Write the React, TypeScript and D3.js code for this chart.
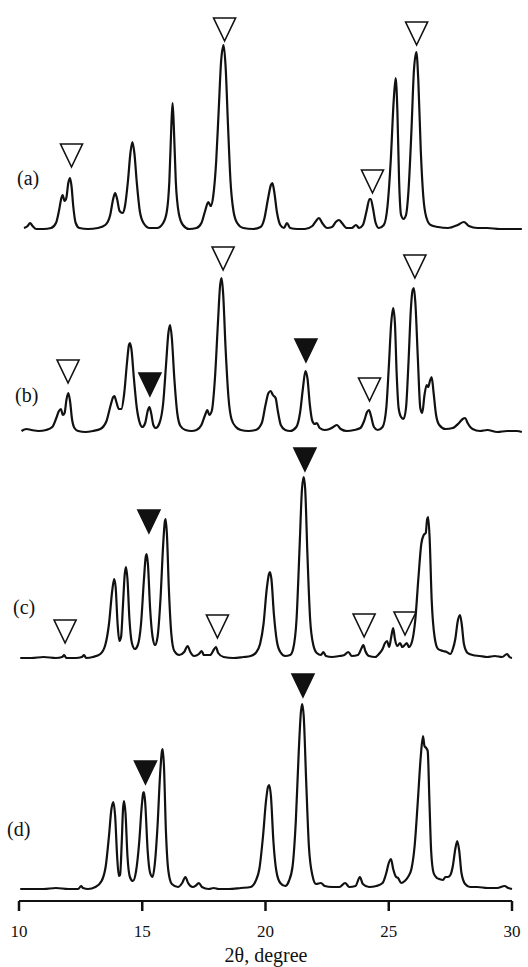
import React from "react";
import * as d3 from "d3";

// Diffraction patterns: [2θ (deg), intensity (arb. units above baseline)]
const patternA: [number, number][] = [
  [10.2, 3], [10.35, 5], [10.45, 8], [10.55, 5], [10.7, 2], [11.0, 2], [11.3, 3], [11.5, 8],
  [11.62, 20], [11.72, 33], [11.77, 36], [11.85, 30], [11.92, 33], [12.0, 48], [12.07, 53],
  [12.13, 45], [12.2, 25], [12.3, 8], [12.45, 3], [12.8, 2], [13.2, 3], [13.5, 6], [13.7, 16],
  [13.82, 32], [13.9, 38], [13.98, 32], [14.08, 20], [14.2, 18], [14.3, 25], [14.42, 50],
  [14.52, 78], [14.6, 89], [14.68, 78], [14.78, 48], [14.9, 20], [15.05, 8], [15.3, 3],
  [15.6, 3], [15.85, 8], [16.0, 20], [16.1, 50], [16.18, 105], [16.23, 128], [16.28, 105],
  [16.36, 50], [16.48, 18], [16.65, 6], [16.9, 2], [17.2, 3], [17.4, 8], [17.55, 20],
  [17.68, 29], [17.78, 25], [17.88, 35], [18.0, 70], [18.1, 120], [18.2, 170], [18.3, 186],
  [18.38, 165], [18.48, 105], [18.58, 50], [18.7, 20], [18.85, 8], [19.1, 3], [19.5, 2],
  [19.8, 4], [19.95, 12], [20.1, 32], [20.22, 46], [20.28, 48], [20.35, 40], [20.47, 18],
  [20.6, 6], [20.75, 3], [20.87, 8], [21.0, 3], [21.3, 2], [21.6, 2], [21.9, 5], [22.05, 10],
  [22.17, 13], [22.3, 8], [22.5, 3], [22.7, 4], [22.85, 9], [22.98, 11], [23.1, 8], [23.3, 3],
  [23.5, 3], [23.67, 6], [23.8, 3], [23.95, 6], [24.1, 20], [24.22, 32], [24.27, 32],
  [24.35, 24], [24.47, 8], [24.6, 3], [24.8, 6], [24.95, 25], [25.08, 70], [25.2, 130],
  [25.28, 153], [25.35, 120], [25.42, 50], [25.5, 16], [25.6, 12], [25.7, 16], [25.8, 40],
  [25.92, 100], [26.02, 160], [26.12, 179], [26.2, 150], [26.3, 80], [26.4, 35], [26.52, 14],
  [26.7, 6], [27.0, 4], [27.4, 3], [27.8, 6], [28.05, 9], [28.25, 5], [28.6, 3], [29.0, 3],
  [29.5, 2], [30.0, 2], [30.4, 2],
];

const patternB: [number, number][] = [
  [10.1, 2], [10.3, 4], [10.5, 3], [10.8, 2], [11.1, 3], [11.35, 6], [11.5, 14], [11.62, 22],
  [11.7, 24], [11.78, 18], [11.85, 20], [11.93, 34], [12.0, 40], [12.07, 32], [12.15, 14],
  [12.25, 5], [12.4, 2], [12.7, 1], [13.0, 2], [13.3, 4], [13.55, 12], [13.72, 28],
  [13.82, 36], [13.87, 37], [13.95, 31], [14.05, 24], [14.15, 24], [14.27, 40], [14.38, 70],
  [14.46, 88], [14.5, 90], [14.56, 84], [14.66, 55], [14.78, 25], [14.9, 10], [15.0, 6],
  [15.12, 10], [15.22, 22], [15.29, 26], [15.36, 20], [15.45, 8], [15.55, 5], [15.7, 10],
  [15.85, 30], [15.97, 70], [16.06, 100], [16.13, 108], [16.2, 95], [16.3, 55], [16.42, 20],
  [16.55, 7], [16.75, 3], [17.0, 2], [17.2, 3], [17.4, 8], [17.55, 18], [17.64, 23],
  [17.72, 18], [17.82, 22], [17.95, 55], [18.07, 110], [18.16, 148], [18.22, 155],
  [18.28, 140], [18.38, 85], [18.5, 35], [18.62, 14], [18.8, 6], [19.0, 3], [19.3, 2],
  [19.6, 3], [19.85, 10], [20.0, 28], [20.12, 40], [20.21, 42], [20.3, 38], [20.41, 35],
  [20.5, 22], [20.62, 8], [20.8, 3], [21.0, 2], [21.25, 6], [21.4, 20], [21.52, 45],
  [21.62, 62], [21.7, 55], [21.8, 28], [21.9, 12], [22.0, 9], [22.08, 10], [22.2, 5],
  [22.4, 3], [22.6, 4], [22.75, 6], [22.9, 8], [23.05, 4], [23.3, 2], [23.6, 3], [23.85, 5],
  [24.0, 12], [24.12, 21], [24.2, 23], [24.28, 17], [24.4, 6], [24.55, 3], [24.75, 6],
  [24.9, 25], [25.0, 65], [25.1, 110], [25.18, 125], [25.25, 110], [25.32, 60], [25.4, 25],
  [25.5, 16], [25.6, 14], [25.7, 25], [25.8, 70], [25.9, 125], [25.97, 143], [26.02, 145],
  [26.08, 130], [26.18, 75], [26.28, 25], [26.36, 20], [26.45, 38], [26.54, 48], [26.6, 46],
  [26.67, 52], [26.74, 56], [26.82, 40], [26.92, 18], [27.05, 8], [27.3, 4], [27.6, 5],
  [27.85, 10], [28.0, 14], [28.1, 15], [28.2, 10], [28.4, 4], [28.7, 2], [29.0, 3],
  [29.4, 1], [29.8, 2], [30.2, 2], [30.4, 1],
];

const patternC: [number, number][] = [
  [10.05, 1], [10.5, 1], [11.0, 2], [11.5, 1], [11.75, 2], [11.83, 4], [11.92, 1], [12.3, 1],
  [12.55, 2], [12.64, 4], [12.72, 1], [13.0, 2], [13.3, 5], [13.5, 14], [13.65, 35],
  [13.78, 68], [13.86, 80], [13.92, 72], [14.0, 35], [14.07, 18], [14.14, 22], [14.22, 55],
  [14.29, 85], [14.34, 92], [14.4, 80], [14.48, 40], [14.58, 16], [14.7, 10], [14.82, 14],
  [14.95, 35], [15.07, 80], [15.14, 102], [15.18, 105], [15.23, 95], [15.32, 50],
  [15.42, 22], [15.52, 14], [15.62, 22], [15.74, 60], [15.85, 115], [15.92, 138],
  [15.95, 140], [16.0, 125], [16.08, 70], [16.18, 25], [16.3, 8], [16.5, 4], [16.7, 7],
  [16.84, 13], [16.95, 7], [17.1, 3], [17.3, 5], [17.41, 8], [17.5, 4], [17.75, 4],
  [17.92, 10], [17.99, 12], [18.08, 6], [18.3, 2], [18.7, 1], [19.1, 2], [19.4, 3],
  [19.6, 6], [19.78, 15], [19.92, 35], [20.05, 70], [20.14, 85], [20.18, 87], [20.24, 80],
  [20.34, 45], [20.46, 18], [20.6, 7], [20.8, 3], [21.0, 4], [21.12, 10], [21.26, 40],
  [21.38, 110], [21.48, 170], [21.55, 182], [21.61, 170], [21.7, 105], [21.81, 40],
  [21.94, 14], [22.08, 6], [22.25, 4], [22.35, 7], [22.45, 3], [22.7, 2], [23.0, 3],
  [23.2, 4], [23.36, 7], [23.5, 3], [23.75, 4], [23.9, 11], [23.97, 14], [24.05, 8],
  [24.2, 3], [24.45, 2], [24.6, 5], [24.75, 10], [24.85, 16], [24.93, 18], [25.02, 12],
  [25.1, 22], [25.18, 31], [25.25, 20], [25.35, 13], [25.46, 16], [25.55, 12], [25.65, 14],
  [25.73, 16], [25.82, 12], [25.95, 18], [26.08, 40], [26.2, 80], [26.32, 115], [26.42, 124],
  [26.5, 126], [26.56, 140], [26.6, 142], [26.66, 120], [26.74, 60], [26.86, 22],
  [27.0, 10], [27.2, 8], [27.35, 7], [27.5, 5], [27.6, 10], [27.7, 20], [27.8, 38],
  [27.89, 44], [27.96, 35], [28.05, 15], [28.2, 6], [28.4, 4], [28.7, 3], [29.0, 2],
  [29.3, 3], [29.6, 2], [29.8, 5], [29.9, 2], [30.0, 1],
];

const patternD: [number, number][] = [
  [10.05, 2], [10.5, 2], [11.0, 2], [11.5, 3], [12.0, 2], [12.4, 2], [12.52, 5], [12.6, 3],
  [12.8, 2], [13.1, 4], [13.35, 10], [13.52, 25], [13.65, 55], [13.75, 82], [13.83, 89],
  [13.9, 75], [13.98, 35], [14.05, 15], [14.1, 16], [14.17, 50], [14.22, 82], [14.26, 90],
  [14.32, 78], [14.4, 35], [14.5, 14], [14.62, 10], [14.75, 20], [14.88, 50], [14.98, 85],
  [15.04, 98], [15.07, 99], [15.12, 88], [15.22, 40], [15.32, 18], [15.42, 14], [15.5, 25],
  [15.62, 65], [15.72, 115], [15.8, 140], [15.83, 142], [15.88, 125], [15.96, 60],
  [16.06, 20], [16.2, 7], [16.45, 4], [16.62, 8], [16.75, 14], [16.86, 8], [17.05, 4],
  [17.2, 6], [17.3, 8], [17.42, 4], [17.7, 2], [17.9, 3], [18.1, 2], [18.5, 2], [19.0, 3],
  [19.4, 4], [19.6, 10], [19.75, 22], [19.9, 55], [20.02, 90], [20.1, 104], [20.15, 106],
  [20.22, 95], [20.32, 50], [20.44, 20], [20.6, 8], [20.8, 5], [20.95, 10], [21.1, 25],
  [21.23, 70], [21.35, 140], [21.44, 180], [21.49, 187], [21.55, 175], [21.65, 110],
  [21.76, 45], [21.9, 16], [22.05, 7], [22.25, 8], [22.4, 5], [22.7, 4], [23.0, 4],
  [23.23, 8], [23.4, 4], [23.65, 5], [23.83, 14], [23.95, 7], [24.2, 4], [24.5, 5],
  [24.75, 8], [24.9, 18], [25.0, 28], [25.09, 32], [25.18, 22], [25.3, 14], [25.38, 13],
  [25.5, 8], [25.65, 10], [25.78, 14], [25.92, 22], [26.05, 45], [26.18, 90], [26.3, 135],
  [26.39, 155], [26.45, 145], [26.52, 143], [26.58, 140], [26.65, 90], [26.72, 40],
  [26.82, 18], [26.95, 13], [27.05, 12], [27.2, 11], [27.3, 14], [27.4, 14], [27.5, 16],
  [27.6, 25], [27.7, 42], [27.78, 50], [27.86, 40], [27.95, 18], [28.1, 7], [28.3, 4],
  [28.6, 4], [29.0, 3], [29.4, 3], [29.7, 5], [29.85, 3], [30.0, 2],
];

// Phase markers: 2θ, apex level (same units as intensity), filled or open
type Marker = { theta: number; level: number; filled: boolean };
const markersA: Marker[] = [
  { theta: 12.13, level: 64, filled: false },
  { theta: 18.34, level: 190, filled: false },
  { theta: 24.34, level: 38, filled: false },
  { theta: 26.13, level: 186, filled: false },
];
const markersB: Marker[] = [
  { theta: 11.99, level: 50, filled: false },
  { theta: 15.31, level: 37, filled: true },
  { theta: 18.28, level: 163, filled: false },
  { theta: 21.64, level: 71, filled: true },
  { theta: 24.22, level: 32, filled: false },
  { theta: 26.06, level: 155, filled: false },
];
const markersC: Marker[] = [
  { theta: 11.87, level: 16, filled: false },
  { theta: 15.27, level: 126, filled: true },
  { theta: 18.05, level: 21, filled: false },
  { theta: 21.6, level: 188, filled: true },
  { theta: 24.0, level: 22, filled: false },
  { theta: 25.66, level: 24, filled: false },
];
const markersD: Marker[] = [
  { theta: 15.13, level: 107, filled: true },
  { theta: 21.52, level: 194, filled: true },
];

const panelLabels = ["(a)", "(b)", "(c)", "(d)"];
const tickValues = [10, 15, 20, 25, 30];
const xTitle = "2θ, degree";

const patterns = [patternA, patternB, patternC, patternD];
const markerSets = [markersA, markersB, markersC, markersD];

// Layout
const W = 528;
const H = 967;
const baselines = [231, 433, 659, 891];
const labelPos = [
  { x: 17, y: 185 },
  { x: 15, y: 402 },
  { x: 13, y: 614 },
  { x: 7, y: 836 },
];
const axisY = 901;
const FONT = "'Liberation Serif', 'Times New Roman', Times, serif";

const x = d3.scaleLinear().domain([10, 30]).range([19, 512]);

export default function App() {
  const triW = 22;
  const triH = 23;
  return (
    <div style={{ position: "absolute", left: 0, top: 0 }}>
      <svg width={W} height={H} style={{ display: "block", background: "#fff" }}>
        <rect width={W} height={H} fill="#fff" />
        {patterns.map((data, i) => {
          const y = d3
            .scaleLinear()
            .domain([0, 200])
            .range([baselines[i], baselines[i] - 200]);
          const line = d3
            .line<[number, number]>()
            .x((d) => x(d[0]))
            .y((d) => y(d[1]))
            .curve(d3.curveMonotoneX);
          return (
            <g key={i}>
              <path
                d={line(data) ?? ""}
                fill="none"
                stroke="#111"
                strokeWidth={2.2}
                strokeLinejoin="round"
              />
              {markerSets[i].map((m, j) => {
                const cx = x(m.theta);
                const ay = y(m.level);
                const pts = `${cx - triW / 2},${ay - triH} ${cx + triW / 2},${ay - triH} ${cx},${ay}`;
                return (
                  <polygon
                    key={j}
                    points={pts}
                    fill={m.filled ? "#111" : "#fff"}
                    stroke="#111"
                    strokeWidth={1.6}
                    strokeLinejoin="miter"
                  />
                );
              })}
              <text
                x={labelPos[i].x}
                y={labelPos[i].y}
                fontFamily={FONT}
                fontSize={20}
                fill="#111"
              >
                {panelLabels[i]}
              </text>
            </g>
          );
        })}
        {/* x axis */}
        <line
          x1={x(10)}
          x2={x(30)}
          y1={axisY}
          y2={axisY}
          stroke="#111"
          strokeWidth={2.2}
        />
        {tickValues.map((t) => (
          <g key={t}>
            <line
              x1={x(t)}
              x2={x(t)}
              y1={axisY}
              y2={axisY + 10}
              stroke="#111"
              strokeWidth={2.5}
            />
            <text
              x={x(t)}
              y={937}
              textAnchor="middle"
              fontFamily={FONT}
              fontSize={17}
              fill="#111"
            >
              {t}
            </text>
          </g>
        ))}
        <text
          x={266}
          y={962}
          textAnchor="middle"
          fontFamily={FONT}
          fontSize={20}
          fill="#111"
        >
          {xTitle}
        </text>
      </svg>
    </div>
  );
}
